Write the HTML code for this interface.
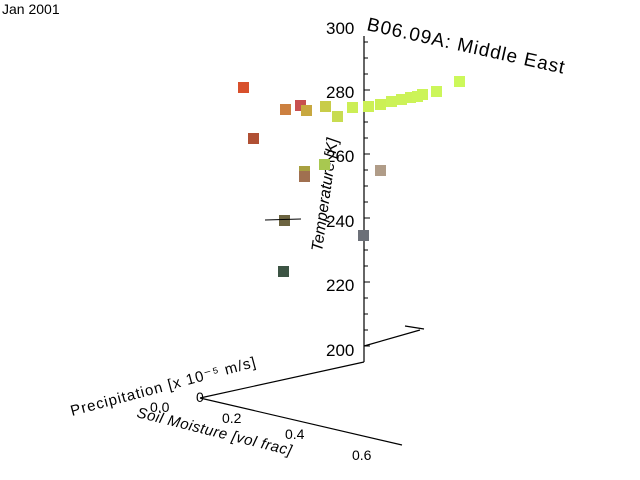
<!DOCTYPE html><html><head><style>body{margin:0;background:#fff}svg{display:block}text{font-family:"Liberation Sans",sans-serif}</style></head><body>
<svg width="640" height="480" viewBox="0 0 640 480">
<text x="2" y="14" font-size="14">Jan 2001</text>
<text x="366" y="30" font-size="19" letter-spacing="1" transform="rotate(12.5 366 30)">B06.09A: Middle East</text>
<g stroke="#000" stroke-width="1.2" fill="none">
<line x1="364" y1="36" x2="364" y2="362"/>
<line x1="364" y1="362" x2="200" y2="398"/>
<line x1="200" y1="398" x2="402" y2="445"/>
<line x1="364" y1="346" x2="420" y2="330"/>
<line x1="405" y1="326" x2="424" y2="329"/>
</g>
<g stroke="#000" stroke-width="1">
<path d="M364 42h4M364 58h4M364 74h4M364 90h6M364 106h4M364 122h4M364 138h4M364 154h6M364 170h4M364 186h4M364 202h4M364 218h6M364 234h4M364 250h4M364 266h4M364 282h6M364 298h4M364 314h4M364 330h4M364 346h6"/>
</g>
<g font-size="17" fill="#000" font-weight="300">
<text x="326" y="34">300</text><text x="326" y="98">280</text><text x="326" y="162">260</text><text x="326" y="227">240</text><text x="326" y="291">220</text><text x="326" y="356">200</text>
</g>
<text x="322" y="252" font-size="16" font-style="italic" transform="rotate(-82 322 252)">Temperature [K]</text>
<text x="72" y="416" font-size="15" letter-spacing="1" transform="rotate(-15 72 416)">Precipitation [x 10⁻⁵ m/s]</text>
<text x="136" y="417" font-size="15" font-style="italic" letter-spacing="0.5" transform="rotate(14 136 417)">Soil Moisture [vol frac]</text>
<g font-size="14"><text x="150" y="412">0.0</text><text x="222" y="423">0.2</text><text x="285" y="439">0.4</text><text x="352" y="460">0.6</text><text x="196" y="402">0</text></g>
<g>
<rect x="238" y="82" width="11" height="11" fill="#d8502c"/>
<rect x="280" y="104" width="11" height="11" fill="#cc8040"/>
<rect x="295" y="100" width="11" height="11" fill="#c85050"/>
<rect x="301" y="105" width="11" height="11" fill="#c8a840"/>
<rect x="320" y="101" width="11" height="11" fill="#c8cc48"/>
<rect x="332" y="111" width="11" height="11" fill="#c8dc50"/>
<rect x="347" y="102" width="11" height="11" fill="#ccee55"/>
<rect x="363" y="101" width="11" height="11" fill="#ccf055"/>
<rect x="375" y="99" width="11" height="11" fill="#ccf055"/>
<rect x="386" y="96" width="11" height="11" fill="#ccf258"/>
<rect x="396" y="94" width="11" height="11" fill="#ccf258"/>
<rect x="405" y="92" width="11" height="11" fill="#ccf258"/>
<rect x="412" y="91" width="11" height="11" fill="#ccf458"/>
<rect x="417" y="89" width="11" height="11" fill="#ccf458"/>
<rect x="431" y="86" width="11" height="11" fill="#ccf65a"/>
<rect x="454" y="76" width="11" height="11" fill="#ccf85a"/>
<rect x="248" y="133" width="11" height="11" fill="#b05034"/>
<rect x="319" y="159" width="11" height="11" fill="#a8c850"/>
<rect x="299" y="166" width="11" height="11" fill="#a8a040"/>
<rect x="299" y="171" width="11" height="11" fill="#a07050"/>
<rect x="375" y="165" width="11" height="11" fill="#b09c88"/>
<rect x="279" y="215" width="11" height="11" fill="#6c6440"/>
<rect x="358" y="230" width="11" height="11" fill="#6c7078"/>
<rect x="278" y="266" width="11" height="11" fill="#3c5444"/>
</g>
<line x1="265" y1="220" x2="301" y2="219" stroke="#000"/>
</svg></body></html>
